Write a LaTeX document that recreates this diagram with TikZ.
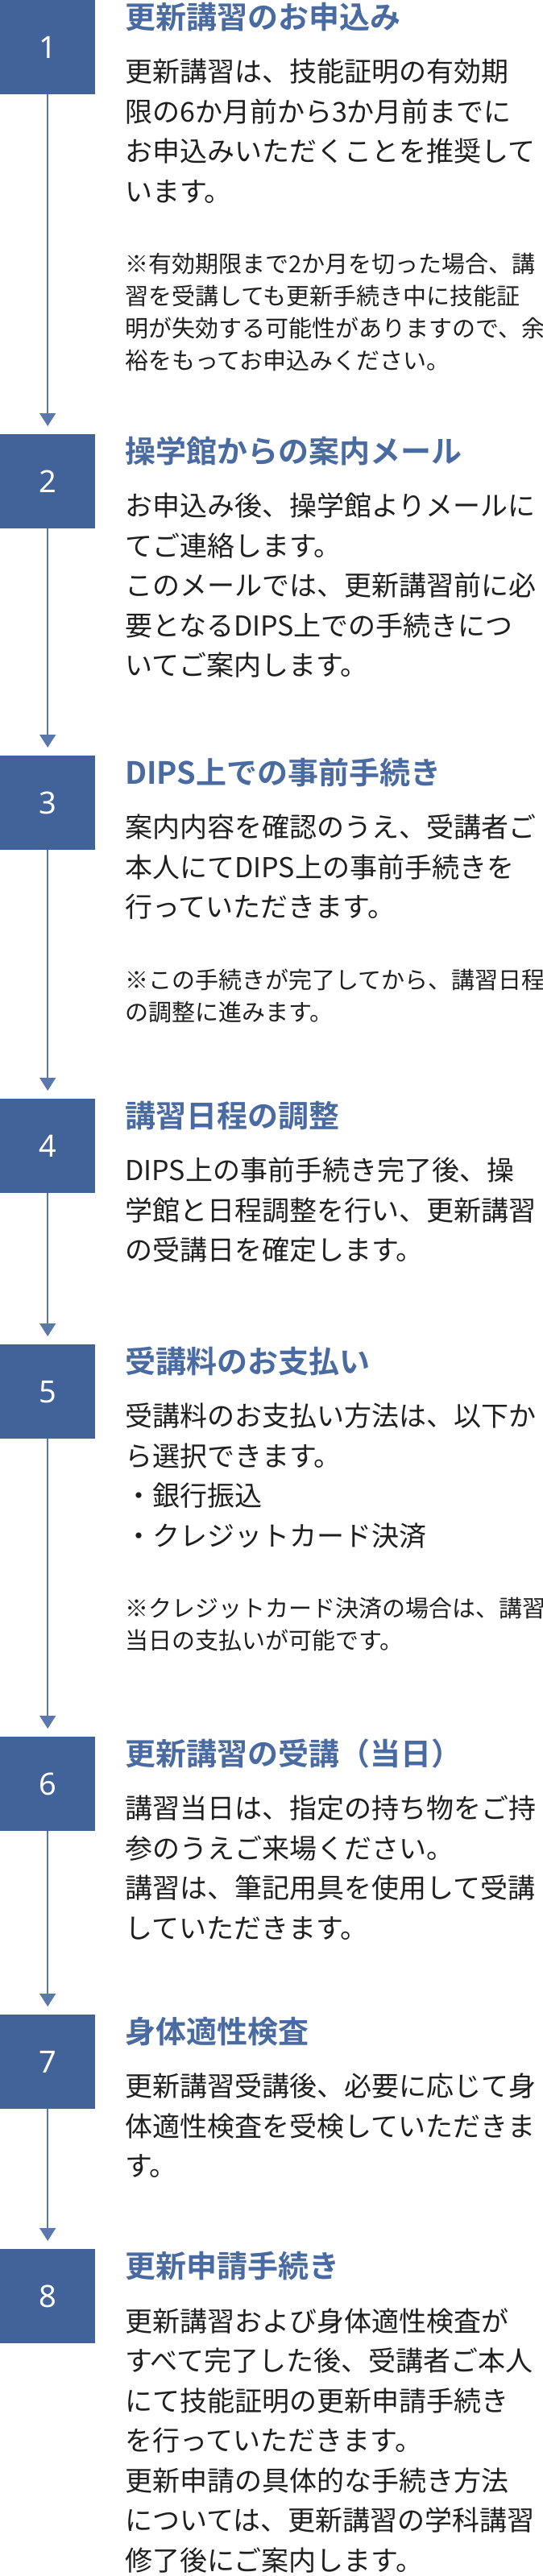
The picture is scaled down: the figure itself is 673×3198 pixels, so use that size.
\documentclass[tikz,border=0pt]{standalone}
\usepackage{fontspec}
\usetikzlibrary{arrows.meta}
\newfontfamily\jp{Noto Sans CJK JP}
\newfontfamily\jpb{Noto Sans CJK JP Bold}
\newfontfamily\numfont{Noto Sans}
\definecolor{boxblue}{HTML}{41639A}
\definecolor{ttlblue}{HTML}{4A6BA1}
\definecolor{lineblue}{HTML}{5A78AC}
\begin{document}
\begin{tikzpicture}[x=1pt,y=-1pt,
  numbox/.style={fill=boxblue,draw=none,minimum width=118pt,minimum height=117pt,inner sep=0pt,anchor=north west,
     text=white,font=\numfont\fontsize{38}{40}\selectfont},
  ttl/.style={anchor=west,inner sep=0pt,text=ttlblue,font=\jpb\fontsize{38}{40}\selectfont},
  body/.style={anchor=north west,inner sep=0pt,align=left,text=black!88,font=\jp\fontsize{34}{49.5}\selectfont},
  note/.style={anchor=north west,inner sep=0pt,align=left,text=black!88,font=\jp\fontsize{29}{40}\selectfont},
  conn/.style={draw=lineblue,line width=1.5pt,-{Triangle[width=20pt 0,length=16pt 0]},shorten >=10pt}]
\useasboundingbox (0,0) rectangle (673,3198);
% step 1
\node[numbox] (b1) at (0,0) {1};
\node[ttl] (t1) at (155,21) {更新講習のお申込み};
\node[body] (d1) at (155,73) {更新講習は、技能証明の有効期\\限の6か月前から3か月前までに\\お申込みいただくことを推奨して\\います。};
\node[note] (n1) at (155,314) {※有効期限まで2か月を切った場合、講\\習を受講しても更新手続き中に技能証\\明が失効する可能性がありますので、余\\裕をもってお申込みください。};
% step 2
\node[numbox] (b2) at (0,539) {2};
\node[ttl] (t2) at (155,560) {操学館からの案内メール};
\node[body] (d2) at (155,612) {お申込み後、操学館よりメールに\\てご連絡します。\\このメールでは、更新講習前に必\\要となるDIPS上での手続きにつ\\いてご案内します。};
% step 3
\node[numbox] (b3) at (0,938) {3};
\node[ttl] (t3) at (155,959) {DIPS上での事前手続き};
\node[body] (d3) at (155,1011) {案内内容を確認のうえ、受講者ご\\本人にてDIPS上の事前手続きを\\行っていただきます。};
\node[note] (n3) at (155,1203) {※この手続きが完了してから、講習日程\\の調整に進みます。};
% step 4
\node[numbox] (b4) at (0,1364) {4};
\node[ttl] (t4) at (155,1385) {講習日程の調整};
\node[body] (d4) at (155,1437) {DIPS上の事前手続き完了後、操\\学館と日程調整を行い、更新講習\\の受講日を確定します。};
% step 5
\node[numbox] (b5) at (0,1669) {5};
\node[ttl] (t5) at (155,1690) {受講料のお支払い};
\node[body] (d5) at (155,1742) {受講料のお支払い方法は、以下か\\ら選択できます。\\・銀行振込\\・クレジットカード決済};
\node[note] (n5) at (155,1983) {※クレジットカード決済の場合は、講習\\当日の支払いが可能です。};
% step 6
\node[numbox] (b6) at (0,2156) {6};
\node[ttl] (t6) at (155,2177) {更新講習の受講（当日）};
\node[body] (d6) at (155,2229) {講習当日は、指定の持ち物をご持\\参のうえご来場ください。\\講習は、筆記用具を使用して受講\\していただきます。};
% step 7
\node[numbox] (b7) at (0,2501) {7};
\node[ttl] (t7) at (155,2522) {身体適性検査};
\node[body] (d7) at (155,2574) {更新講習受講後、必要に応じて身\\体適性検査を受検していただきま\\す。};
% step 8
\node[numbox] (b8) at (0,2792) {8};
\node[ttl] (t8) at (155,2813) {更新申請手続き};
\node[body] (d8) at (155,2865) {更新講習および身体適性検査が\\すべて完了した後、受講者ご本人\\にて技能証明の更新申請手続き\\を行っていただきます。\\更新申請の具体的な手続き方法\\については、更新講習の学科講習\\修了後にご案内します。};
% connectors
\draw[conn] (b1.south) -- (b2.north);
\draw[conn] (b2.south) -- (b3.north);
\draw[conn] (b3.south) -- (b4.north);
\draw[conn] (b4.south) -- (b5.north);
\draw[conn] (b5.south) -- (b6.north);
\draw[conn] (b6.south) -- (b7.north);
\draw[conn] (b7.south) -- (b8.north);
\end{tikzpicture}
\end{document}
